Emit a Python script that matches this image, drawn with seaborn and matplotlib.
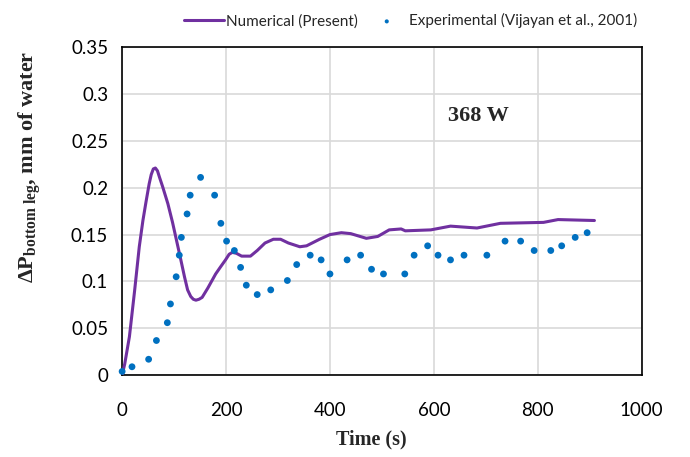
import matplotlib
matplotlib.use("Agg")
import matplotlib.pyplot as plt
import seaborn as sns
import pandas as pd

# Numerical (Present)
num_t = [0, 5, 14, 24, 33, 40, 46, 52, 56, 60, 64, 68, 72, 78, 88, 97, 105, 113, 120, 126,
         132, 137, 142, 148, 154, 165, 180, 190, 199, 206, 212, 220, 230, 247, 260, 275, 291,
         305, 320, 342, 355, 380, 400, 422, 440, 470, 492, 514, 537, 545, 594, 632, 683, 728,
         811, 839, 909]
num_v = [0.0, 0.012, 0.041, 0.09, 0.137, 0.165, 0.185, 0.204, 0.214, 0.220, 0.221, 0.218,
         0.211, 0.201, 0.183, 0.163, 0.143, 0.123, 0.105, 0.091, 0.084, 0.081, 0.080, 0.081,
         0.083, 0.093, 0.108, 0.116, 0.123, 0.129, 0.131, 0.130, 0.127, 0.127, 0.133, 0.141,
         0.145, 0.145, 0.141, 0.137, 0.138, 0.145, 0.150, 0.152, 0.151, 0.146, 0.148, 0.155,
         0.156, 0.154, 0.155, 0.159, 0.157, 0.162, 0.163, 0.166, 0.165]

# Experimental (Vijayan et al., 2001)
exp_t = [0, 19, 51, 66, 87, 93, 104, 110, 114, 125, 131, 151, 178, 190, 201, 216, 228, 239,
         260, 286, 318, 336, 362, 383, 400, 433, 459, 480, 503, 544, 562, 588, 608, 632, 658,
         702, 737, 767, 793, 825, 846, 872, 895]
exp_v = [0.004, 0.009, 0.017, 0.037, 0.056, 0.076, 0.105, 0.128, 0.147, 0.172, 0.192, 0.211,
         0.192, 0.162, 0.143, 0.133, 0.115, 0.096, 0.086, 0.091, 0.101, 0.118, 0.128, 0.123,
         0.108, 0.123, 0.128, 0.113, 0.108, 0.108, 0.128, 0.138, 0.128, 0.123, 0.128, 0.128,
         0.143, 0.143, 0.133, 0.133, 0.138, 0.147, 0.152]

x_ticks = [0, 200, 400, 600, 800, 1000]
y_ticks = [0, 0.05, 0.1, 0.15, 0.2, 0.25, 0.3, 0.35]
y_tick_labels = ["0", "0.05", "0.1", "0.15", "0.2", "0.25", "0.3", "0.35"]

sns.set_theme(style="white")
plt.rcParams['font.family'] = ['Lato', 'DejaVu Sans']
plt.rcParams['mathtext.fontset'] = 'custom'
plt.rcParams['mathtext.rm'] = 'Liberation Serif'
plt.rcParams['mathtext.bf'] = 'Liberation Serif:bold'
plt.rcParams['mathtext.it'] = 'Liberation Serif:italic'

fig = plt.figure(figsize=(6.9, 4.57), dpi=100)
ax = fig.add_axes([0.177, 0.179, 0.753, 0.718])

df_num = pd.DataFrame({"t": num_t, "v": num_v})
df_exp = pd.DataFrame({"t": exp_t, "v": exp_v})

sns.lineplot(data=df_num, x="t", y="v", ax=ax, color="#7030A0", lw=2.2,
             label="Numerical (Present)", zorder=3)
sns.scatterplot(data=df_exp, x="t", y="v", ax=ax, color="#0070C0", s=24,
                edgecolor="none", label="Experimental (Vijayan et al., 2001)", zorder=4,
                clip_on=False)

ax.set_xlim(0, 1000)
ax.set_ylim(0, 0.35)
ax.set_xticks(x_ticks)
ax.set_yticks(y_ticks)
ax.set_yticklabels(y_tick_labels)
ax.grid(True, color="#D9D9D9", lw=1.2)
ax.set_axisbelow(True)
for s in ax.spines.values():
    s.set_color("black")
    s.set_linewidth(1.2)
ax.tick_params(axis="both", labelsize=13.5, length=0, colors="black")
ax.tick_params(axis="x", pad=19)
ax.tick_params(axis="y", pad=10)

ax.set_xlabel("Time (s)", fontfamily="Liberation Serif", fontweight="bold",
              fontsize=14.5, labelpad=6)
ax.xaxis.set_label_coords(0.48, -0.165)
ax.set_ylabel(r"$\mathbf{\Delta P}_{\mathbf{bottom\ leg}}$, mm of water",
              fontfamily="Liberation Serif", fontweight="bold", fontsize=16)
ax.yaxis.set_label_coords(-0.152, 0.636)

ax.text(685, 0.277, "368 W", fontfamily="Liberation Serif", fontweight="bold",
        fontsize=16, ha="center", va="center")

leg = ax.legend(loc="lower center", bbox_to_anchor=(0.555, 1.015), ncol=2, frameon=False,
                fontsize=11, handlelength=2.6, handletextpad=0.15, columnspacing=0.6,
                markerscale=0.6)

fig.savefig("out.png", dpi=100)
